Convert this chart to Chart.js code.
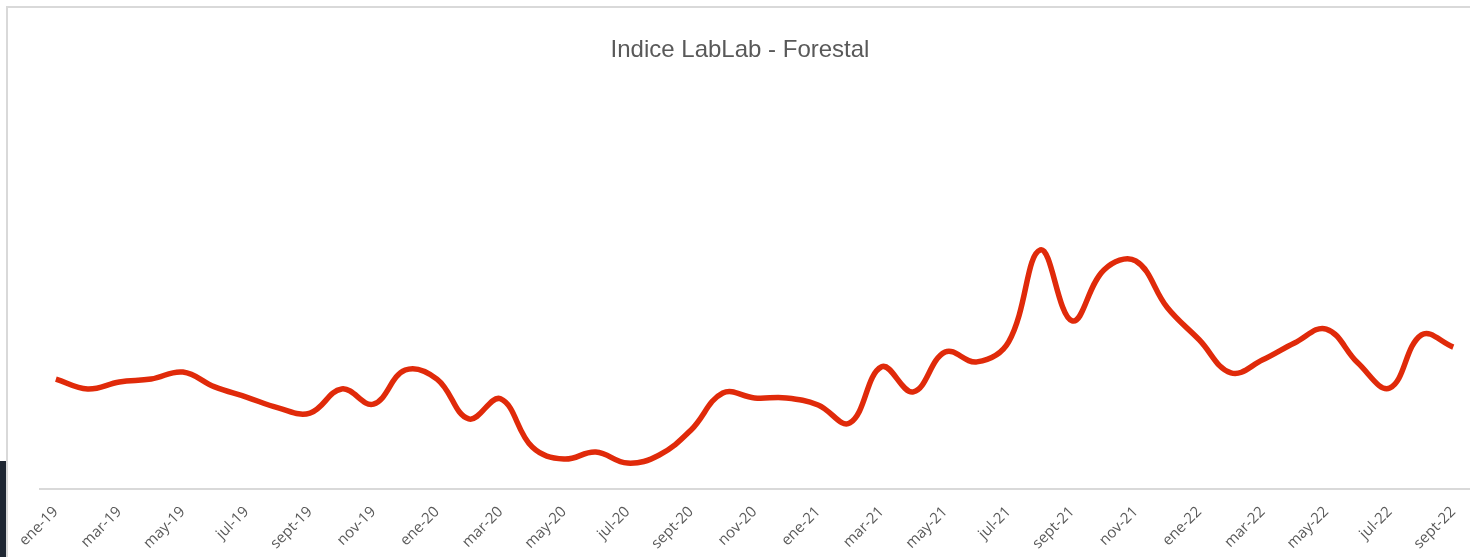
<!DOCTYPE html>
<html>
<head>
<meta charset="utf-8">
<script src="https://cdn.jsdelivr.net/npm/chart.js@4.4.1/dist/chart.umd.min.js"></script>
<style>
  html, body { margin: 0; padding: 0; background: #fff; overflow: hidden; }
  #frame { position: absolute; left: 6px; top: 6px; width: 1464px; height: 551px;
           border-left: 2px solid #d9d9d9; border-top: 2px solid #d9d9d9; }
  #strip { position: absolute; left: 0; top: 461px; width: 6px; height: 96px; background: #1f2733; }
  #wrap { position: absolute; left: 0; top: 0; width: 1464px; height: 549px; }
</style>
</head>
<body>
<div id="strip"></div>
<div id="frame"><div id="wrap"><canvas id="myChart"></canvas></div></div>
<script>
const months = ["ene", "feb", "mar", "abr", "may", "jun", "jul", "ago", "sept", "oct", "nov", "dic"];
const years = ["19", "20", "21", "22"];

// ene-19 .. sept-22
const labels = [];
for (const y of years) {
  for (const m of months) {
    labels.push(m + "-" + y);
  }
}
labels.length = 45;

const indiceForestal = [
  37.8, 34.4, 36.8, 37.8, 40.2, 35.1, 31.6, 27.9, 26.1, 34.4, 29.2, 40.9,
  37.8, 24.1, 31.0, 14.4, 10.3, 12.7, 8.9, 11.7, 20.3, 33.0, 31.3, 31.3,
  28.9, 22.7, 42.0, 33.4, 47.1, 43.7, 50.6, 82.2, 57.8, 75.3, 78.4, 62.3,
  51.3, 39.9, 44.4, 50.2, 55.0, 43.3, 34.7, 53.0, 48.8
];

const ctx = document.getElementById("myChart");

const chart = new Chart(ctx, {
  type: "line",
  data: {
    labels: labels,
    datasets: [
      {
        label: "Indice LabLab - Forestal",
        data: indiceForestal,
        borderColor: "#e02a0a",
        borderWidth: 5.5,
        tension: 0.4,
        pointRadius: 0,
        fill: false,
      },
    ],
  },
  options: {
    responsive: true,
    maintainAspectRatio: false,
    animation: false,
    layout: { padding: 0 },
    plugins: {
      legend: { display: false },
      tooltip: { enabled: false },
      title: {
        display: true,
        text: "Indice LabLab - Forestal",
        color: "#595959",
        font: { family: "'Liberation Sans', Arial, sans-serif", size: 24, weight: "normal" },
        padding: { top: 28, bottom: 17 },
      },
    },
    scales: {
      x: {
        offset: true,
        grid: { display: false },
        border: { display: true, color: "#d9d9d9", width: 2 },
        afterFit: (s) => { s.height = 68; },
        ticks: {
          autoSkip: false,
          maxRotation: 45,
          minRotation: 45,
          padding: 6,
          color: "#595959",
          font: { family: "'Open Sans', sans-serif", size: 15 },
          callback: function (v, i) { return i % 2 === 0 ? labels[i] : ""; },
        },
      },
      y: {
        display: true,
        min: 0,
        max: 140,
        grid: { display: false },
        border: { display: false },
        ticks: { display: false },
        afterFit: (s) => { s.width = 32; },
      },
    },
  },
});
</script>
</body>
</html>
